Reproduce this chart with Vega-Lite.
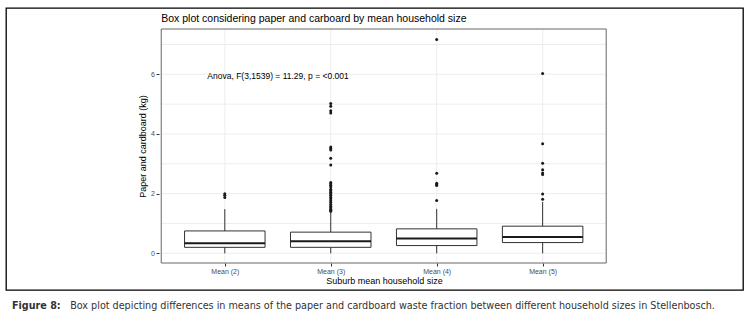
{
  "$schema": "https://vega.github.io/schema/vega-lite/v6.json",
  "width": 737,
  "height": 282,
  "autosize": {"type": "none"},
  "padding": {"left": 6, "top": 8, "right": 11, "bottom": 27},
  "background": "white",
  "config": {
    "view": {"stroke": "#000000", "strokeWidth": 1.3},
    "font": "Liberation Sans"
  },
  "datasets": {
    "boxes": [
      {"group": 1, "label": "Mean (2)", "lower": 0, "q1": 0.2, "median": 0.34, "q3": 0.75, "upper": 1.48},
      {"group": 2, "label": "Mean (3)", "lower": 0, "q1": 0.2, "median": 0.4, "q3": 0.71, "upper": 1.39},
      {"group": 3, "label": "Mean (4)", "lower": 0, "q1": 0.26, "median": 0.5, "q3": 0.82, "upper": 1.49},
      {"group": 4, "label": "Mean (5)", "lower": 0, "q1": 0.36, "median": 0.55, "q3": 0.91, "upper": 1.72}
    ],
    "outliers": [
      {"group": 1, "value": 2.0}, {"group": 1, "value": 1.95}, {"group": 1, "value": 1.87},
      {"group": 2, "value": 5.02}, {"group": 2, "value": 4.93}, {"group": 2, "value": 4.78}, {"group": 2, "value": 4.7},
      {"group": 2, "value": 3.56}, {"group": 2, "value": 3.51}, {"group": 2, "value": 3.46}, {"group": 2, "value": 3.19},
      {"group": 2, "value": 2.96}, {"group": 2, "value": 2.37}, {"group": 2, "value": 2.33}, {"group": 2, "value": 2.28},
      {"group": 2, "value": 2.22}, {"group": 2, "value": 2.15}, {"group": 2, "value": 2.1}, {"group": 2, "value": 2.05},
      {"group": 2, "value": 2.0}, {"group": 2, "value": 1.95}, {"group": 2, "value": 1.88}, {"group": 2, "value": 1.82},
      {"group": 2, "value": 1.76}, {"group": 2, "value": 1.7}, {"group": 2, "value": 1.64}, {"group": 2, "value": 1.58},
      {"group": 2, "value": 1.53}, {"group": 2, "value": 1.48}, {"group": 2, "value": 1.44}, {"group": 2, "value": 1.41},
      {"group": 3, "value": 7.17}, {"group": 3, "value": 2.68}, {"group": 3, "value": 2.35}, {"group": 3, "value": 2.31},
      {"group": 3, "value": 2.27}, {"group": 3, "value": 1.77},
      {"group": 4, "value": 6.03}, {"group": 4, "value": 3.67}, {"group": 4, "value": 3.02}, {"group": 4, "value": 2.8},
      {"group": 4, "value": 2.69}, {"group": 4, "value": 2.64}, {"group": 4, "value": 1.99}, {"group": 4, "value": 1.81}
    ],
    "grid": [
      {"v": 0}, {"v": 1}, {"v": 2}, {"v": 3}, {"v": 4}, {"v": 5}, {"v": 6}, {"v": 7}
    ]
  },
  "layer": [
    {
      "data": {"name": "grid"},
      "mark": {"type": "rule", "color": "#e8e8e8", "strokeWidth": 0.8},
      "encoding": {
        "y": {
          "field": "v", "type": "quantitative",
          "scale": {"domain": [-1.23, 8.223], "nice": false, "zero": false},
          "axis": {
            "orient": "left", "offset": -153, "values": [0, 2, 4, 6],
            "domain": false, "grid": false, "ticks": true, "tickSize": 3, "tickColor": "#333333", "tickWidth": 1,
            "labelFontSize": 7, "labelColor": "#4d4d4d", "labelPadding": 1.5,
            "title": "Paper and cardboard (kg)", "titleFontSize": 9, "titleFontWeight": "normal", "titleColor": "#000000",
            "titlePadding": 3, "titleY": 138
          }
        },
        "x": {
          "datum": 0.4, "type": "quantitative",
          "scale": {"domain": [-1.018, 5.844], "nice": false, "zero": false},
          "axis": {
            "orient": "bottom", "offset": -27, "values": [1, 2, 3, 4],
            "labelExpr": "datum.value == 1 ? 'Mean (2)' : datum.value == 2 ? 'Mean (3)' : datum.value == 3 ? 'Mean (4)' : 'Mean (5)'",
            "domain": false, "grid": false, "ticks": true, "tickSize": 3, "tickColor": "#333333", "tickWidth": 1,
            "labelFontSize": 7, "labelColor": "#4d4d4d", "labelPadding": 1.5,
            "title": "Suburb mean household size", "titleFontSize": 9, "titleFontWeight": "normal", "titleColor": "#000000",
            "titlePadding": 2, "titleX": 378
          }
        },
        "x2": {"datum": 4.6}
      }
    },
    {
      "data": {"name": "boxes"},
      "mark": {"type": "rule", "color": "#e8e8e8", "strokeWidth": 0.8},
      "encoding": {
        "x": {"field": "group", "type": "quantitative"},
        "y": {"datum": -0.325, "type": "quantitative"},
        "y2": {"datum": 7.519}
      }
    },
    {
      "data": {"name": "boxes"},
      "mark": {"type": "rule", "color": "#333333", "strokeWidth": 1},
      "encoding": {
        "x": {"field": "group", "type": "quantitative"},
        "y": {"field": "lower", "type": "quantitative"},
        "y2": {"field": "upper"}
      }
    },
    {
      "data": {"name": "boxes"},
      "mark": {"type": "bar", "width": 80.5, "fill": "#ffffff", "stroke": "#333333", "strokeWidth": 1},
      "encoding": {
        "x": {"field": "group", "type": "quantitative"},
        "y": {"field": "q1", "type": "quantitative"},
        "y2": {"field": "q3"}
      }
    },
    {
      "data": {"name": "boxes"},
      "mark": {"type": "tick", "orient": "horizontal", "size": 80.5, "thickness": 2, "color": "#1a1a1a", "opacity": 1},
      "encoding": {
        "x": {"field": "group", "type": "quantitative"},
        "y": {"field": "median", "type": "quantitative"}
      }
    },
    {
      "data": {"name": "outliers"},
      "mark": {"type": "point", "filled": true, "size": 9, "color": "#1a1a1a", "opacity": 1},
      "encoding": {
        "x": {"field": "group", "type": "quantitative"},
        "y": {"field": "value", "type": "quantitative"}
      }
    },
    {
      "data": {"values": [{}]},
      "mark": {"type": "rect", "fill": "#ffffff", "fillOpacity": 0, "stroke": "#666666", "strokeWidth": 1},
      "encoding": {
        "x": {"datum": 0.4, "type": "quantitative"},
        "x2": {"datum": 4.6},
        "y": {"datum": -0.325, "type": "quantitative"},
        "y2": {"datum": 7.519}
      }
    },
    {
      "data": {"values": [{"note": "Anova, F(3,1539) = 11.29, p = <0.001"}]},
      "mark": {"type": "text", "align": "left", "baseline": "middle", "fontSize": 8.5, "color": "#000000"},
      "encoding": {
        "x": {"datum": 0.835, "type": "quantitative"},
        "y": {"datum": 5.95, "type": "quantitative"},
        "text": {"field": "note"}
      }
    },
    {
      "data": {"values": [{"title": "Box plot considering paper and carboard by mean household size"}]},
      "mark": {"type": "text", "align": "left", "baseline": "middle", "fontSize": 10.5, "color": "#000000"},
      "encoding": {
        "x": {"datum": 0.4, "type": "quantitative"},
        "y": {"datum": 7.838, "type": "quantitative"},
        "text": {"field": "title"}
      }
    },
    {
      "data": {"values": [{"cap": "Figure 8:"}]},
      "mark": {"type": "text", "align": "left", "baseline": "middle", "fontSize": 10.7, "font": "DejaVu Sans Condensed, Liberation Sans", "fontWeight": "bold", "color": "#333333"},
      "encoding": {
        "x": {"datum": -1.009, "type": "quantitative"},
        "y": {"datum": -1.766, "type": "quantitative"},
        "text": {"field": "cap"}
      }
    },
    {
      "data": {"values": [{"cap": "Box plot depicting differences in means of the paper and cardboard waste fraction between different household sizes in Stellenbosch."}]},
      "mark": {"type": "text", "align": "left", "baseline": "middle", "fontSize": 10.7, "font": "DejaVu Sans Condensed, Liberation Sans", "color": "#333333"},
      "encoding": {
        "x": {"datum": -0.459, "type": "quantitative"},
        "y": {"datum": -1.766, "type": "quantitative"},
        "text": {"field": "cap"}
      }
    }
  ]
}
